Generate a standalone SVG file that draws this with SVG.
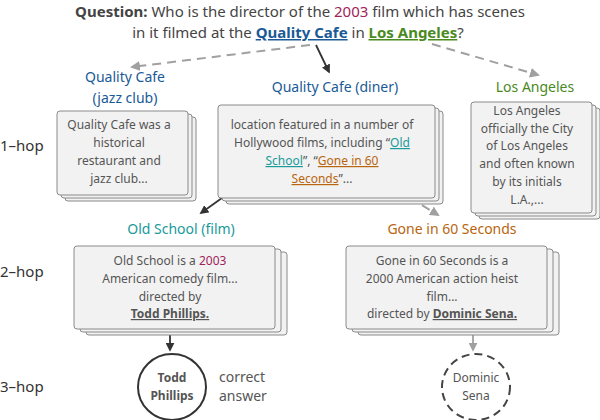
<svg xmlns="http://www.w3.org/2000/svg" width="600" height="420" viewBox="0 0 600 420">
<style>
text{font-family:"Noto Sans","DejaVu Sans",sans-serif}
.t{font-size:15px;fill:#444}
.lb{font-size:14px;text-anchor:middle}
.bx{fill:#f2f2f2;stroke:#8a8a8a;stroke-width:1}
.bt{font-size:12px;fill:#555;text-anchor:middle}
.hop{font-size:15px;fill:#333}
.blue{fill:#1a5a96}.green{fill:#4a8a1e}.teal{fill:#1a9a9a}.orange{fill:#b8650e}.red{fill:#a0245a}
.u{text-decoration:underline}
.dash{stroke:#a0a0a0;stroke-width:2;stroke-dasharray:9,6;fill:none}
.solid{stroke:#333;stroke-width:1.8;fill:none}
</style>
<defs>
<marker id="ag" viewBox="0 0 10 10" refX="8" refY="5" markerWidth="5" markerHeight="5" orient="auto"><path d="M0,0L10,5L0,10z" fill="#a0a0a0"/></marker>
<marker id="ad" viewBox="0 0 10 10" refX="8" refY="5" markerWidth="5" markerHeight="5" orient="auto"><path d="M0,0L10,5L0,10z" fill="#333"/></marker>
</defs>
<g id="question">
<text class="t" x="300" y="17" text-anchor="middle"><tspan font-weight="bold">Question:</tspan> Who is the director of the <tspan class="red">2003</tspan> film which has scenes</text>
<text class="t" x="298" y="38" text-anchor="middle">in it filmed at the <tspan class="blue u" font-weight="bold">Quality Cafe</tspan> in <tspan class="green u" font-weight="bold">Los Angeles</tspan>?</text>
</g>
<g id="connectors">
<line class="dash" x1="310" y1="45" x2="132" y2="67" marker-end="url(#ag)"/>
<line class="solid" x1="316" y1="45" x2="329" y2="72" marker-end="url(#ad)"/>
<line class="dash" x1="432" y1="44" x2="538" y2="75" marker-end="url(#ag)"/>
<line class="solid" x1="264" y1="168" x2="201" y2="213" marker-end="url(#ad)"/>
<line class="dash" x1="358" y1="166" x2="438" y2="215" marker-end="url(#ag)"/>
<line class="solid" x1="170" y1="322" x2="170" y2="350" marker-end="url(#ad)"/>
<line x1="473" y1="322" x2="473" y2="350" stroke="#a0a0a0" stroke-width="1.8" marker-end="url(#ag)"/>
</g>
<g id="hops">
<text class="hop" x="0" y="151">1–hop</text>
<text class="hop" x="0" y="277">2–hop</text>
<text class="hop" x="0" y="392">3–hop</text>
</g>
<g id="qc-jazz">
<text class="lb blue" x="125" y="82">Quality Cafe</text>
<text class="lb blue" x="125" y="103">(jazz club)</text>
<rect class="bx" x="65" y="117" width="131" height="84" rx="3"/>
<rect class="bx" x="61" y="114" width="131" height="84" rx="3"/>
<rect class="bx" x="57" y="111" width="131" height="84" rx="3"/>
<text class="bt" x="119" y="129">Quality Cafe was a</text>
<text class="bt" x="119" y="147">historical</text>
<text class="bt" x="119" y="165">restaurant and</text>
<text class="bt" x="119" y="183">jazz club...</text>
</g>
<g id="qc-diner">
<text class="lb blue" x="335" y="92">Quality Cafe (diner)</text>
<rect class="bx" x="226" y="111" width="217" height="93" rx="3"/>
<rect class="bx" x="222" y="108" width="217" height="93" rx="3"/>
<rect class="bx" x="218" y="105" width="217" height="93" rx="3"/>
<text class="bt" x="322" y="129">location featured in a number of</text>
<text class="bt" x="322" y="147">Hollywood films, including “<tspan class="teal u">Old</tspan></text>
<text class="bt" x="322" y="165"><tspan class="teal u">School</tspan>”, “<tspan class="orange u">Gone in 60</tspan></text>
<text class="bt" x="322" y="183"><tspan class="orange u">Seconds</tspan>”...</text>
</g>
<g id="la">
<text class="lb green" x="535" y="92">Los Angeles</text>
<rect class="bx" x="479" y="108" width="121" height="111" rx="3"/>
<rect class="bx" x="475" y="105" width="121" height="111" rx="3"/>
<rect class="bx" x="471" y="102" width="121" height="111" rx="3"/>
<text class="bt" x="527" y="115">Los Angeles</text>
<text class="bt" x="527" y="133">officially the City</text>
<text class="bt" x="527" y="150">of Los Angeles</text>
<text class="bt" x="527" y="168">and often known</text>
<text class="bt" x="527" y="186">by its initials</text>
<text class="bt" x="527" y="204">L.A.,...</text>
</g>
<g id="old-school">
<text class="lb teal" x="181" y="234">Old School (film)</text>
<rect class="bx" x="86" y="252" width="201" height="83" rx="3"/>
<rect class="bx" x="80" y="249" width="201" height="83" rx="3"/>
<rect class="bx" x="74" y="246" width="201" height="83" rx="3"/>
<text class="bt" x="170" y="265">Old School is a <tspan class="red">2003</tspan></text>
<text class="bt" x="170" y="283">American comedy film...</text>
<text class="bt" x="170" y="301">directed by</text>
<text class="bt u" x="170" y="318" font-weight="bold">Todd Phillips.</text>
</g>
<g id="gone">
<text class="lb orange" x="452" y="234">Gone in 60 Seconds</text>
<rect class="bx" x="358" y="252" width="201" height="83" rx="3"/>
<rect class="bx" x="352" y="249" width="201" height="83" rx="3"/>
<rect class="bx" x="346" y="246" width="201" height="83" rx="3"/>
<text class="bt" x="442" y="265">Gone in 60 Seconds is a</text>
<text class="bt" x="442" y="283">2000 American action heist</text>
<text class="bt" x="442" y="301">film...</text>
<text class="bt" x="442" y="318">directed by <tspan class="u" font-weight="bold">Dominic Sena.</tspan></text>
</g>
<g id="todd">
<ellipse cx="172" cy="387" rx="34" ry="33" fill="#fff" stroke="#333" stroke-width="2"/>
<text class="bt" x="172" y="382" font-weight="bold" fill="#444">Todd</text>
<text class="bt" x="172" y="400" font-weight="bold" fill="#444">Phillips</text>
<text x="219" y="382" font-size="14" fill="#555">correct</text>
<text x="219" y="401" font-size="14" fill="#555">answer</text>
</g>
<g id="dominic">
<ellipse cx="476" cy="387" rx="34" ry="33" fill="#fff" stroke="#444" stroke-width="2" stroke-dasharray="8,5"/>
<text class="bt" x="476" y="382" fill="#444">Dominic</text>
<text class="bt" x="476" y="400" fill="#444">Sena</text>
</g>
</svg>
